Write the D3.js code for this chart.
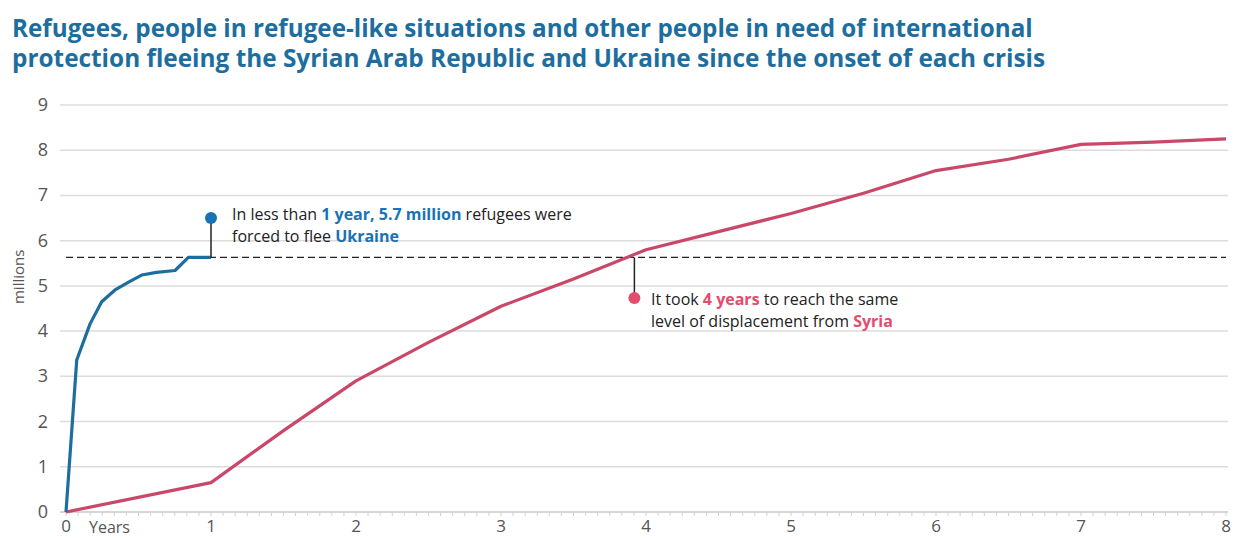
<!DOCTYPE html>
<head>
    <style>
        * { padding: 0; margin: 0; }
        body { background: #fff; }
        svg { display: block; }
    </style>
    <script src="https://cdn.jsdelivr.net/npm/d3@7"></script>
</head>
<body>
<script>
    /////////////////////////////////////////////////////
    // DATA
    /////////////////////////////////////////////////////

    // years since onset of crisis, millions of people
    const ukraineYears  = [0, 0.074, 0.166, 0.246, 0.338, 0.441, 0.522, 0.625, 0.752, 0.844, 1]
    const ukraineValues = [0, 3.36, 4.16, 4.65, 4.91, 5.10, 5.24, 5.30, 5.34, 5.63, 5.63]

    const syriaYears  = [0, 1, 1.5, 2, 2.5, 3, 3.5, 4, 4.5, 5, 5.5, 6, 6.5, 7, 7.5, 8]
    const syriaValues = [0, 0.65, 1.8, 2.9, 3.75, 4.55, 5.15, 5.8, 6.2, 6.6, 7.05, 7.55, 7.8, 8.13, 8.18, 8.25]

    const yTicks = [0, 1, 2, 3, 4, 5, 6, 7, 8, 9]
    const xTicks = [0, 1, 2, 3, 4, 5, 6, 7, 8]

    const levelValue = 5.63 // the dashed reference level
    const ukraineNote = { year: 1, value: 6.5 }
    const syriaNote = { year: 3.92, value: 4.73 }

    const titleLines = [
        "Refugees, people in refugee-like situations and other people in need of international",
        "protection fleeing the Syrian Arab Republic and Ukraine since the onset of each crisis"
    ]

    /////////////////////////////////////////////////////
    // SETUP
    /////////////////////////////////////////////////////

    const width = 1238
    const height = 538
    const blue = "#1d6e9f"
    const pink = "#c9486a"
    const dotBlue = "#1a72b5"
    const dotPink = "#e24d6d"
    const grey = "#555"

    const svg = d3.select("body").append("svg")
        .attr("width", width)
        .attr("height", height)

    const x = d3.scaleLinear().domain([0, 8]).range([66, 1226])
    const y = d3.scaleLinear().domain([0, 9]).range([512, 105])

    /////////////////////////////////////////////////////
    // TITLE
    /////////////////////////////////////////////////////

    const title = svg.append("g")
    titleLines.forEach((t, i) => {
        const txt = title.append("text")
            .attr("x", 12)
            .attr("y", 37 + i * 30)
            .attr("fill", blue)
            .style("font-family", "'Open Sans', sans-serif")
            .style("font-weight", 700)
            .style("font-size", "20px")
            .text(t)
        //scale font so the lines end where the original does
        const w = txt.node().getComputedTextLength()
        const target = i === 0 ? 1021 : 1033
        txt.style("font-size", (20 * target / w).toFixed(2) + "px")
    })

    /////////////////////////////////////////////////////
    // GRID & AXES
    /////////////////////////////////////////////////////

    svg.append("g")
        .selectAll("line")
        .data(yTicks)
        .join("line")
        .attr("x1", x(0) - 6)
        .attr("x2", x(8) + 2)
        .attr("y1", d => y(d))
        .attr("y2", d => y(d))
        .attr("stroke", d => d === 0 ? "#c8c8c8" : "#dcdcdc")
        .attr("stroke-width", 1.5)

    svg.append("g")
        .selectAll("text")
        .data(yTicks)
        .join("text")
        .attr("x", 48)
        .attr("y", d => y(d) + 6)
        .attr("text-anchor", "end")
        .attr("fill", grey)
        .style("font-family", "'Open Sans', sans-serif")
        .style("font-size", "18px")
        .text(d => d)

    svg.append("text")
        .attr("transform", `translate(24,${y(5.2)}) rotate(-90)`)
        .attr("text-anchor", "middle")
        .attr("fill", grey)
        .style("font-family", "'Open Sans', sans-serif")
        .style("font-size", "15px")
        .text("millions")

    //monthly minor ticks
    svg.append("g")
        .selectAll("line")
        .data(d3.range(0, 8 * 12 + 1).map(m => m / 12))
        .join("line")
        .attr("x1", d => x(d))
        .attr("x2", d => x(d))
        .attr("y1", y(0))
        .attr("y2", y(0) + 4)
        .attr("stroke", "#d0d0d0")
        .attr("stroke-width", 1)

    svg.append("g")
        .selectAll("text")
        .data(xTicks)
        .join("text")
        .attr("x", d => x(d))
        .attr("y", 532)
        .attr("text-anchor", "middle")
        .attr("fill", grey)
        .style("font-family", "'Open Sans', sans-serif")
        .style("font-size", "17px")
        .text(d => d)

    svg.append("text")
        .attr("x", 89)
        .attr("y", 533)
        .attr("fill", grey)
        .style("font-family", "'Open Sans', sans-serif")
        .style("font-size", "16px")
        .text("Years")

    /////////////////////////////////////////////////////
    // DASHED LEVEL
    /////////////////////////////////////////////////////

    svg.append("line")
        .attr("x1", x(0))
        .attr("x2", x(8))
        .attr("y1", y(levelValue))
        .attr("y2", y(levelValue))
        .attr("stroke", "#222")
        .attr("stroke-width", 1.3)
        .attr("stroke-dasharray", "7,4")

    /////////////////////////////////////////////////////
    // LINES
    /////////////////////////////////////////////////////

    const line = d3.line()
        .x(d => x(d[0]))
        .y(d => y(d[1]))

    svg.append("path")
        .datum(d3.zip(syriaYears, syriaValues))
        .attr("fill", "none")
        .attr("stroke", pink)
        .attr("stroke-width", 3.2)
        .attr("stroke-linejoin", "round")
        .attr("d", line)

    svg.append("path")
        .datum(d3.zip(ukraineYears, ukraineValues))
        .attr("fill", "none")
        .attr("stroke", blue)
        .attr("stroke-width", 3.2)
        .attr("stroke-linejoin", "round")
        .attr("d", line)

    /////////////////////////////////////////////////////
    // ANNOTATIONS
    /////////////////////////////////////////////////////

    const noteFont = "'Liberation Sans Narrow', 'Open Sans', sans-serif"

    function annotate(note, color, lines, tx, ty) {
        svg.append("line")
            .attr("x1", x(note.year))
            .attr("x2", x(note.year))
            .attr("y1", y(note.value))
            .attr("y2", y(levelValue))
            .attr("stroke", "#222")
            .attr("stroke-width", 1.5)
        svg.append("circle")
            .attr("cx", x(note.year))
            .attr("cy", y(note.value))
            .attr("r", 6)
            .attr("fill", color)

        lines.forEach((parts, i) => {
            const t = svg.append("text")
                .attr("x", tx)
                .attr("y", ty + i * 22)
                .attr("fill", "#222")
                .style("font-family", noteFont)
                .style("font-size", "16px")
            parts.forEach(p => {
                t.append("tspan")
                    .attr("fill", p[1] ? color : "#222")
                    .style("font-weight", p[1] ? 700 : 400)
                    .text(p[0])
            })
        })
    }

    annotate(ukraineNote, dotBlue, [
        [["In less than ", false], ["1 year, 5.7 million", true], [" refugees were", false]],
        [["forced to flee ", false], ["Ukraine", true]]
    ], 232, 220)

    annotate(syriaNote, dotPink, [
        [["It took ", false], ["4 years", true], [" to reach the same", false]],
        [["level of displacement from ", false], ["Syria", true]]
    ], 651, 305)
</script>
</body>
